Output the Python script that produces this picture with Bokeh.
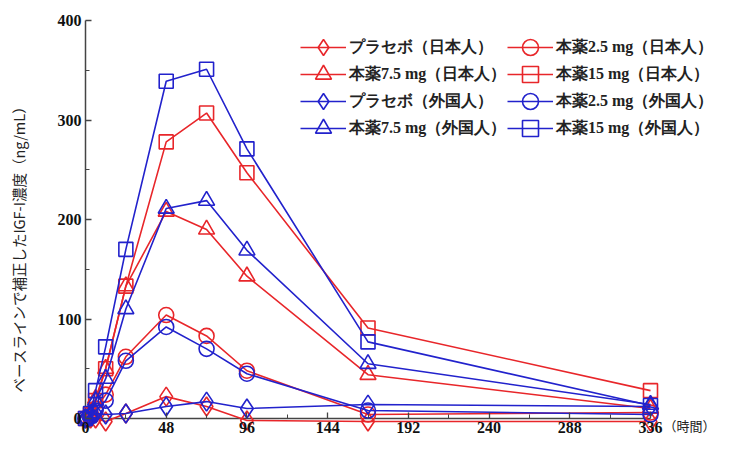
import math
from bokeh.plotting import figure
from bokeh.models import (Range1d, LinearAxis, FixedTicker, Legend, LegendItem, Label)
from bokeh.embed import file_html
from bokeh.resources import INLINE

# ---- data ----
hours = [0, 3, 6, 12, 24, 48, 72, 96, 168, 336]
jp_placebo = [0, 0, 0, -3, 5, 22, 12, -2, -3, -3]
jp_25 = [0, 3, 10, 24, 62, 104, 83, 48, 4, 6]
jp_75 = [0, 5, 20, 50, 133, 208, 190, 143, 44, 10]
jp_15 = [0, 4, 18, 50, 133, 278, 307, 247, 91, 28]
fg_placebo = [0, 2, 5, 4, 5, 12, 17, 10, 14, 12]
fg_25 = [0, 2, 8, 18, 58, 92, 70, 45, 8, 4]
fg_75 = [0, 4, 18, 40, 110, 211, 219, 169, 55, 14]
fg_15 = [0, 5, 28, 72, 170, 339, 351, 271, 77, 13]

x_ticks = [0, 48, 96, 144, 192, 240, 288, 336]
x_minor = [24, 72, 120, 168, 216, 264, 312]
y_ticks = [0, 100, 200, 300, 400]
y_minor = [50, 150, 250, 350]

RED = "#e8262a"
BLUE = "#2222cc"
AXIS = "#444444"

series = [
    ("プラセボ（日本人）", jp_placebo, RED, "diamond", 19),
    ("本薬2.5 mg（日本人）", jp_25, RED, "circle", 15),
    ("本薬7.5 mg（日本人）", jp_75, RED, "triangle", 16),
    ("本薬15 mg（日本人）", jp_15, RED, "square", 14),
    ("プラセボ（外国人）", fg_placebo, BLUE, "diamond", 19),
    ("本薬2.5 mg（外国人）", fg_25, BLUE, "circle", 15),
    ("本薬7.5 mg（外国人）", fg_75, BLUE, "triangle", 16),
    ("本薬15 mg（外国人）", fg_15, BLUE, "square", 14),
]

W, H = 716, 434
X0, X336 = 85, 650      # pixel of x=0 and x=336
Y0, Y400 = 418, 20      # pixel of y=0 and y=400
sx = (X336 - X0) / 336
sy = (Y0 - Y400) / 400
p = figure(width=W, height=H, output_backend="svg", toolbar_location=None,
           x_range=Range1d(-X0 / sx, (W - X0) / sx),
           y_range=Range1d(-(H - Y0) / sy, 400 + Y400 / sy),
           x_axis_location=None, y_axis_location=None,
           min_border_left=0, min_border_right=0, min_border_top=0, min_border_bottom=0)
p.outline_line_color = None
p.xgrid.visible = False
p.ygrid.visible = False

# axis lines
p.line([x_ticks[0], x_ticks[-1]], [0, 0], line_color=AXIS, line_width=1.5)
p.line([0, 0], [y_ticks[0] - 8, y_ticks[-1]], line_color=AXIS, line_width=1.5)

items = {}
for name, vals, col, mk, sz in series:
    l = p.line(hours, vals, line_color=col, line_width=1.6)
    s = p.scatter(hours, vals, marker=mk, size=sz, line_color=col, line_width=1.6,
                  fill_alpha=0)
    items[name] = LegendItem(label=name, renderers=[l, s])

TICKFONT = "Liberation Serif"
xaxis = LinearAxis(fixed_location=0, ticker=FixedTicker(ticks=x_ticks, minor_ticks=x_minor))
yaxis = LinearAxis(fixed_location=0, ticker=FixedTicker(ticks=y_ticks, minor_ticks=y_minor))
for ax in (xaxis, yaxis):
    ax.major_label_text_font = TICKFONT
    ax.major_label_text_font_style = "bold"
    ax.major_label_text_font_size = "16px"
    ax.major_label_text_color = "#111111"
    ax.axis_line_color = None
    ax.major_tick_line_color = AXIS
    ax.minor_tick_line_color = AXIS
    ax.major_tick_line_width = 1.3
    ax.major_tick_in = 6
    ax.major_tick_out = 0
    ax.minor_tick_in = 4
    ax.minor_tick_out = 0
xaxis.major_label_standoff = 3
yaxis.major_label_standoff = 4
p.add_layout(xaxis, "below")
p.add_layout(yaxis, "left")

# y-axis title
p.add_layout(Label(x=(18 - X0) / sx, y=(Y0 - 245) / sy, text="ベースラインで補正したIGF-I濃度（ng/mL）",
                   angle=math.pi / 2, text_align="center", text_baseline="middle",
                   text_font="Noto Sans CJK JP", text_font_size="14.5px", text_color="#222222"))
# x-axis unit
p.add_layout(Label(x=(663 - X0) / sx, y=(Y0 - 425) / sy, text="（時間）", text_font="Noto Sans CJK JP",
                   text_font_size="13px", text_baseline="middle", text_color="#222222"))

# legend: one Legend per entry so that markers can be large while rows stay ~27px apart
order = [["プラセボ（日本人）", "本薬7.5 mg（日本人）", "プラセボ（外国人）", "本薬7.5 mg（外国人）"],
         ["本薬2.5 mg（日本人）", "本薬15 mg（日本人）", "本薬2.5 mg（外国人）", "本薬15 mg（外国人）"]]
col_x = [300, 507]
row_y = [47, 74, 101, 128]
GH = 40
for ci, col_names in enumerate(order):
    for ri, name in enumerate(col_names):
        lg = Legend(items=[items[name]], location=(col_x[ci], H - (row_y[ri] + GH // 2)),
                    label_text_font="Liberation Serif", label_text_font_style="bold",
                    label_text_font_size="16px", label_text_color="#222222",
                    glyph_width=46, glyph_height=GH, spacing=0, padding=0, margin=0,
                    label_standoff=3, border_line_color=None, background_fill_alpha=0)
        p.add_layout(lg, "center")

open("out.html", "w").write(file_html(p, INLINE))
